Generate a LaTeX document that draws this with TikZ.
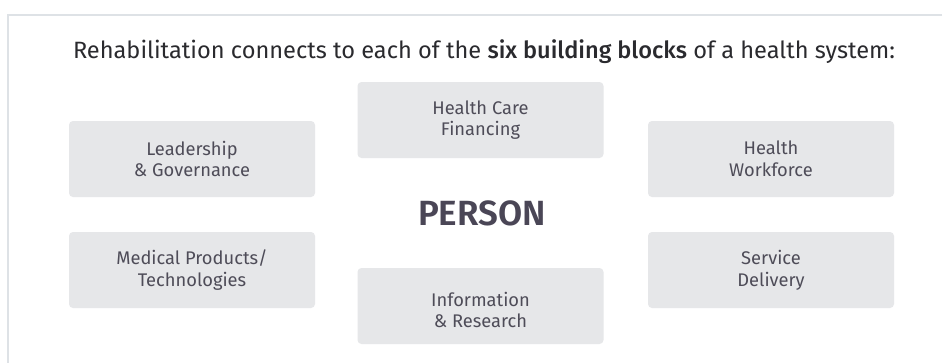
\documentclass[tikz,border=0pt]{standalone}
\usepackage{fontspec}
\setmainfont{Fira Sans}[BoldFont={Fira Sans Medium}]
\newfontfamily\personfont{Fira Sans SemiBold}
\begin{document}
\begin{tikzpicture}[x=1pt,y=-1pt,
  blk/.style={fill=boxgray, rounded corners=4pt, minimum width=246pt, minimum height=76pt,
    inner sep=0pt, align=center, text=txtgray, font=\fontsize{18.3}{21.8}\selectfont},
  blktext/.style={inner sep=0pt, align=center, text=txtgray, font=\fontsize{18.3}{21.8}\selectfont},
  framec/.style={draw=framegray, line width=2.2pt}]
\definecolor{boxgray}{HTML}{E6E7E9}
\definecolor{txtgray}{HTML}{4E4C58}
\definecolor{framegray}{HTML}{DEE2E6}
\definecolor{titlec}{HTML}{2A2A2E}
\definecolor{personc}{HTML}{4A4656}
\useasboundingbox (0,0) rectangle (943,362);
\fill[white] (0,0) rectangle (943,362);
\coordinate (fa) at (942,15);
\coordinate (fb) at (8,15);
\coordinate (fc) at (8,363);
\draw[framec] (fa) -- (fb) -- (fc);
\node[text=titlec, font=\fontsize{23.6}{28}\selectfont, anchor=base] (title) at (484,58.5)
  {Rehabilitation connects to each of the \textbf{six building blocks} of a health system:};
\node[blk] (hcf) at (480.5,120) {Health Care\\Financing};
\node[blk] (lg) at (192,159) {Leadership\\\& Governance};
\node[blk] (hw) at (771,159) {Health\\Workforce};
\node[blk] (mp) at (192,270) {Medical Products/\\Technologies};
\node[blk] (sd) at (771,270) {Service\\Delivery};
\node[blk] (ir) at (480.5,306) {};
\node[blktext] (irt) at ([yshift=-4pt]ir.center) {Information\\\& Research};
\node[text=personc, font=\fontsize{35}{40}\personfont] (person) at (482,213) {PERSON};
\end{tikzpicture}
\end{document}
